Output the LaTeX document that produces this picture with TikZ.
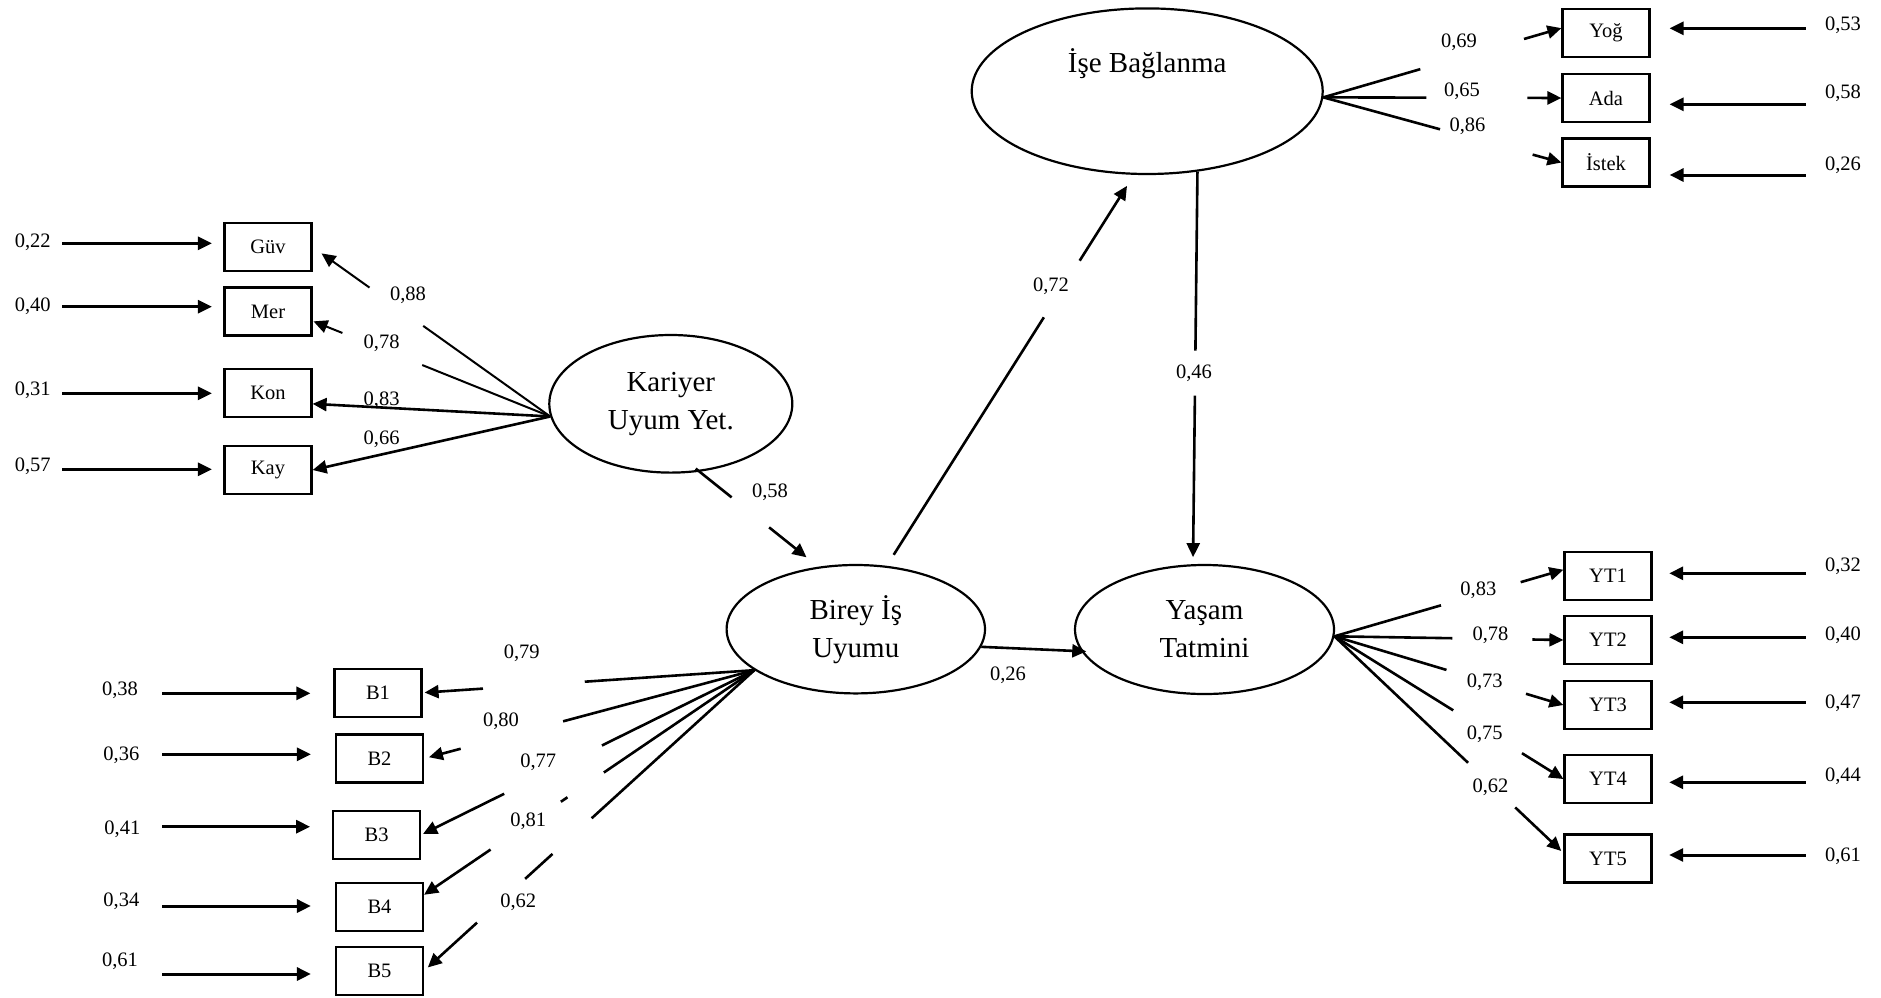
\documentclass[tikz,border=0pt]{standalone}
\usepackage{fontspec}
\setmainfont{Liberation Serif}
\usetikzlibrary{shapes.geometric,arrows.meta,calc}

\newcommand{\lblfont}{\fontsize{20.5}{24}\selectfont}
\newcommand{\latfont}{\fontsize{29}{38}\selectfont}

\tikzset{every picture/.style={line width=2pt}}
\tikzset{
	latent/.style={draw, ellipse, line width=2.2pt, inner sep=0pt, align=center, font=\latfont},
	obs/.style={draw, line width=2.2pt, minimum width=87pt, minimum height=48pt, inner sep=0pt, font=\lblfont},
	lbl/.style={inner sep=0pt, font=\lblfont},
	headed/.style={-{Triangle[length=14pt,width=13pt]}},
	ld/.style={line width=2.6pt},
	ldthin/.style={line width=2pt},
	err/.style={line width=3pt, headed}
}

\begin{document}
\begin{tikzpicture}[x=1pt,y=1pt,yscale=-1,xscale=1]
	\useasboundingbox (0,0) rectangle (1881,997);

	%Shape: Ellipse
	\node[latent, minimum width=243pt, minimum height=137.6pt] (kuy) at (670.8,403.8) {Kariyer\\Uyum Yet.};
	%Shape: Ellipse
	\node[latent, minimum width=258.4pt, minimum height=128.4pt] (bir) at (855.8,629.2) {Birey İş\\Uyumu};
	%Shape: Ellipse
	\node[latent, minimum width=351pt, minimum height=165.6pt, text height=20pt, text depth=57pt] (ise) at (1147.2,91.2) {İşe Bağlanma};
	%Shape: Ellipse
	\node[latent, minimum width=259pt, minimum height=129pt] (yas) at (1204.5,629.5) {Yaşam\\Tatmini};

	%Shape: Rectangle
	\node[obs] (guv) at (268,247) {Güv};
	\node[obs] (mer) at (268,311.5) {Mer};
	\node[obs] (kon) at (268,392.7) {Kon};
	\node[obs] (kay) at (268,470) {Kay};
	%Shape: Rectangle
	\node[obs] (b1) at (378,692.7) {B1};
	\node[obs] (b2) at (379.5,758.5) {B2};
	\node[obs] (b3) at (376.7,834.7) {B3};
	\node[obs] (b4) at (379.5,906.7) {B4};
	\node[obs] (b5) at (379.5,970.8) {B5};
	%Shape: Rectangle
	\node[obs] (yog) at (1606,32.8) {Yoğ};
	\node[obs] (ada) at (1606,98) {Ada};
	\node[obs] (ist) at (1606,162.5) {İstek};
	%Shape: Rectangle
	\node[obs] (yt1) at (1608,576) {YT1};
	\node[obs] (yt2) at (1608,640) {YT2};
	\node[obs] (yt3) at (1608,705) {YT3};
	\node[obs] (yt4) at (1608,779) {YT4};
	\node[obs] (yt5) at (1608,858.5) {YT5};

	%Straight Lines: Kariyer Uyum Yet. loadings
	\draw[ldthin] (kuy.186) -- ($(kuy.186)!156pt!(guv.east)$);
	\draw[ldthin,headed,shorten >=11pt] ($(kuy.186)!222pt!(guv.east)$) -- (guv.east);
	\draw[ldthin] (kuy.186) -- ($(kuy.186)!138pt!(mer.-12)$);
	\draw[ldthin,headed,shorten >=1pt] ($(kuy.186)!224pt!(mer.-12)$) -- (mer.-12);
	\draw[ld,headed] (kuy.186) -- (kon.-14);
	\draw[ld,headed] (kuy.186) -- (kay.east);

	%Straight Lines: Birey Is Uyumu loadings
	\draw[ld] (bir.202) -- ($(bir.202)!170pt!(b1.east)$);
	\draw[ld,headed,shorten >=2pt] ($(bir.202)!272pt!(b1.east)$) -- (b1.east);
	\draw[ld] (bir.202) -- ($(bir.202)!198pt!(b2.east)$);
	\draw[ld,headed,shorten >=5pt] ($(bir.202)!304pt!(b2.east)$) -- (b2.east);
	\draw[ld] (bir.202) -- ($(bir.202)!170pt!(b3.east)$);
	\draw[ld,headed,shorten >=2pt] ($(bir.202)!279pt!(b3.east)$) -- (b3.east);
	\draw[ld] (bir.202) -- ($(bir.202)!182pt!(b4.15)$);
	\draw[ld] ($(bir.202)!226pt!(b4.15)$) -- ($(bir.202)!234pt!(b4.15)$);
	\draw[ld,headed] ($(bir.202)!319pt!(b4.15)$) -- (b4.15);
	\draw[ld] (bir.202) -- ($(bir.202)!220pt!(b5.east)$);
	\draw[ld] ($(bir.202)!273pt!(b5.east)$) -- ($(bir.202)!310pt!(b5.east)$);
	\draw[ld,headed,shorten >=5pt] ($(bir.202)!375pt!(b5.east)$) -- (b5.east);

	%Straight Lines: Ise Baglanma loadings
	\draw[ld] (ise.-2) -- ($(ise.-2)!101pt!(yog.174)$);
	\draw[ld,headed] ($(ise.-2)!209pt!(yog.174)$) -- (yog.174);
	\draw[ld] (ise.-2) -- ($(ise.-2)!103pt!(ada.west)$);
	\draw[ld,headed] ($(ise.-2)!204pt!(ada.west)$) -- (ada.west);
	\draw[ld] (ise.-2) -- ($(ise.-2)!121pt!(ist.west)$);
	\draw[ld,headed] ($(ise.-2)!217pt!(ist.west)$) -- (ist.west);

	%Straight Lines: Yasam Tatmini loadings
	\draw[ld] (yas.-3) -- ($(yas.-3)!111pt!(yt1.172)$);
	\draw[ld,headed] ($(yas.-3)!194pt!(yt1.172)$) -- (yt1.172);
	\draw[ld] (yas.-3) -- ($(yas.-3)!118pt!(yt2.west)$);
	\draw[ld,headed] ($(yas.-3)!198pt!(yt2.west)$) -- (yt2.west);
	\draw[ld] (yas.-3) -- ($(yas.-3)!117pt!(yt3.west)$);
	\draw[ld,headed] ($(yas.-3)!200pt!(yt3.west)$) -- (yt3.west);
	\draw[ld] (yas.-3) -- ($(yas.-3)!140pt!(yt4.west)$);
	\draw[ld,headed] ($(yas.-3)!221pt!(yt4.west)$) -- (yt4.west);
	\draw[ld] (yas.-3) -- ($(yas.-3)!184pt!(yt5.173)$);
	\draw[ld,headed,shorten >=3pt] ($(yas.-3)!249pt!(yt5.173)$) -- (yt5.173);

	%Straight Lines: structural paths
	\draw[ld,shorten <=-5pt] (kuy.-67) -- ($(kuy.-67)!41pt!(bir.121)$);
	\draw[ld,headed,shorten >=15pt] ($(kuy.-67)!89pt!(bir.121)$) -- (bir.121);
	\draw[ld,shorten <=13pt] (bir.64) -- ($(bir.64)!294pt!(ise.261)$);
	\draw[ld,headed,shorten >=13pt] ($(bir.64)!361pt!(ise.261)$) -- (ise.261);
	\draw[ld] (ise.-58) -- ($(ise.-58)!179pt!(yas.100)$);
	\draw[ld,headed,shorten >=7pt] ($(ise.-58)!224pt!(yas.100)$) -- (yas.100);
	\draw[ld,headed,shorten >=-5pt] (bir.-8) -- (yas.190);

	%Straight Lines: error terms
	\coordinate (aGuv) at (62,243.3);
	\coordinate (aMer) at (62,306.7);
	\coordinate (aKon) at (62,393.3);
	\coordinate (aKay) at (62,469.3);
	\draw[err,shorten >=11.5pt] (aGuv) -- (aGuv -| guv.west);
	\draw[err,shorten >=11.5pt] (aMer) -- (aMer -| mer.west);
	\draw[err,shorten >=11.5pt] (aKon) -- (aKon -| kon.west);
	\draw[err,shorten >=11.5pt] (aKay) -- (aKay -| kay.west);
	\coordinate (aB1) at (162,693.3);
	\coordinate (aB2) at (162,754.3);
	\coordinate (aB3) at (162,826.7);
	\coordinate (aB4) at (162,906);
	\coordinate (aB5) at (162,974);
	\draw[err,shorten >=23pt] (aB1) -- (aB1 -| b1.west);
	\draw[err,shorten >=24pt] (aB2) -- (aB2 -| b2.west);
	\draw[err,shorten >=22pt] (aB3) -- (aB3 -| b3.west);
	\draw[err,shorten >=24pt] (aB4) -- (aB4 -| b4.west);
	\draw[err,shorten >=24pt] (aB5) -- (aB5 -| b5.west);
	\coordinate (aYog) at (1805.5,28.3);
	\coordinate (aAda) at (1805.5,104.3);
	\coordinate (aIst) at (1805.5,175);
	\draw[err,shorten >=19pt] (aYog) -- (aYog -| yog.east);
	\draw[err,shorten >=19pt] (aAda) -- (aAda -| ada.east);
	\draw[err,shorten >=19pt] (aIst) -- (aIst -| ist.east);
	\coordinate (aYt1) at (1805.5,573.3);
	\coordinate (aYt2) at (1805.5,637.3);
	\coordinate (aYt3) at (1805.5,702.3);
	\coordinate (aYt4) at (1805.5,782.3);
	\coordinate (aYt5) at (1805.5,855);
	\draw[err,shorten >=16.6pt] (aYt1) -- (aYt1 -| yt1.east);
	\draw[err,shorten >=16.6pt] (aYt2) -- (aYt2 -| yt2.east);
	\draw[err,shorten >=16.6pt] (aYt3) -- (aYt3 -| yt3.east);
	\draw[err,shorten >=16.6pt] (aYt4) -- (aYt4 -| yt4.east);
	\draw[err,shorten >=16.6pt] (aYt5) -- (aYt5 -| yt5.east);

	% Text Node
	\node[lbl] (eGuv) at (32.7,242.7) {0,22};
	\node[lbl] (eMer) at (32.7,306.7) {0,40};
	\node[lbl] (eKon) at (32.7,390) {0,31};
	\node[lbl] (eKay) at (32.7,466.7) {0,57};
	% Text Node
	\node[lbl] (lGuv) at (408,295) {0,88};
	\node[lbl] (lMer) at (381.6,343.3) {0,78};
	\node[lbl] (lKon) at (381.6,400) {0,83};
	\node[lbl] (lKay) at (381.6,439.3) {0,66};
	% Text Node
	\node[lbl] (pKuyBir) at (770,492.7) {0,58};
	\node[lbl] (pBirIse) at (1051,286.7) {0,72};
	\node[lbl] (pIseYas) at (1194,373.3) {0,46};
	\node[lbl] (pBirYas) at (1008,675) {0,26};
	% Text Node
	\node[lbl] (lB1) at (521.7,653.3) {0,79};
	\node[lbl] (lB2) at (501,721.7) {0,80};
	\node[lbl] (lB3) at (538.3,762.7) {0,77};
	\node[lbl] (lB4) at (528.3,821.7) {0,81};
	\node[lbl] (lB5) at (518.3,902.7) {0,62};
	% Text Node
	\node[lbl] (eB1) at (120,690) {0,38};
	\node[lbl] (eB2) at (121.4,755) {0,36};
	\node[lbl] (eB3) at (122.4,829.3) {0,41};
	\node[lbl] (eB4) at (121.4,901.7) {0,34};
	\node[lbl] (eB5) at (120,961.7) {0,61};
	% Text Node
	\node[lbl] (lYog) at (1459,42.7) {0,69};
	\node[lbl] (lAda) at (1462,91.7) {0,65};
	\node[lbl] (lIst) at (1467.5,126.7) {0,86};
	\node[lbl] (eYog) at (1843,25) {0,53};
	\node[lbl] (eAda) at (1843,93.3) {0,58};
	\node[lbl] (eIst) at (1843,165) {0,26};
	% Text Node
	\node[lbl] (lYt1) at (1478.3,590) {0,83};
	\node[lbl] (lYt2) at (1490.5,635) {0,78};
	\node[lbl] (lYt3) at (1484.7,682.7) {0,73};
	\node[lbl] (lYt4) at (1484.7,734) {0,75};
	\node[lbl] (lYt5) at (1490.5,787.3) {0,62};
	\node[lbl] (eYt1) at (1843,566.7) {0,32};
	\node[lbl] (eYt2) at (1843,635) {0,40};
	\node[lbl] (eYt3) at (1843,703.3) {0,47};
	\node[lbl] (eYt4) at (1843,776.7) {0,44};
	\node[lbl] (eYt5) at (1843,856.7) {0,61};

\end{tikzpicture}
\end{document}
